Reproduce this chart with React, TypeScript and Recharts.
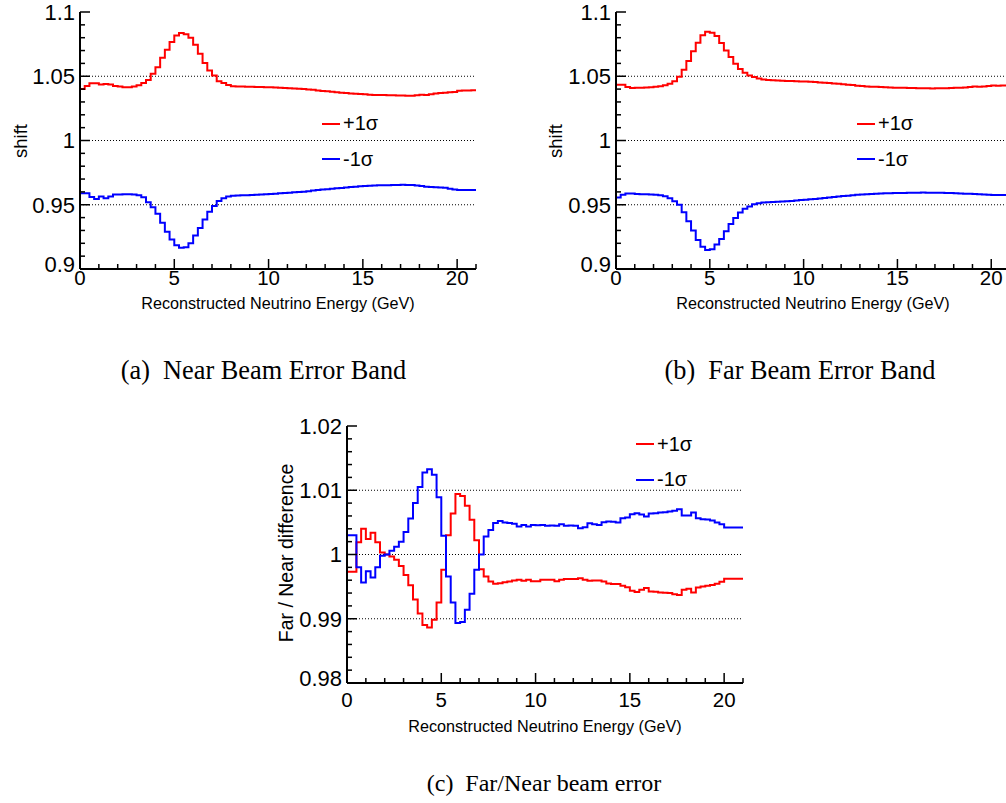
import React from 'react';
import { LineChart, Line, XAxis, YAxis, ReferenceLine, Legend } from 'recharts';

const SANS = '"Liberation Sans", Arial, Helvetica, sans-serif';
const SERIF = '"Liberation Serif", "Times New Roman", serif';

const BIN_WIDTH = 0.25;
const X_MAX = 21;

const xTicks = [0, 1, 2, 3, 4, 5, 6, 7, 8, 9, 10, 11, 12, 13, 14, 15, 16, 17, 18, 19, 20, 21];
const xLabelled = [0, 5, 10, 15, 20];

const shiftTicks = [0.9, 0.91, 0.92, 0.93, 0.94, 0.95, 0.96, 0.97, 0.98, 0.99, 1, 1.01, 1.02, 1.03, 1.04, 1.05, 1.06, 1.07, 1.08, 1.09, 1.1];
const shiftLabelled = [0.9, 0.95, 1, 1.05, 1.1];
const shiftGrid = [0.95, 1, 1.05];

const ratioTicks = [0.98, 0.982, 0.984, 0.986, 0.988, 0.99, 0.992, 0.994, 0.996, 0.998, 1, 1.002, 1.004, 1.006, 1.008, 1.01, 1.012, 1.014, 1.016, 1.018, 1.02];
const ratioLabelled = [0.98, 0.99, 1, 1.01, 1.02];
const ratioGrid = [0.99, 1, 1.01];

const seriesNames = ['+1σ', '-1σ'];
const seriesColors = ['#ff0000', '#0000ff'];

// bin contents, 0.25 GeV bins from 0 to 21 GeV
const nearUp = [
  1.0400, 1.0425, 1.0445, 1.0445, 1.0435, 1.0440, 1.0435, 1.0425, 1.0420, 1.0415,
  1.0415, 1.0420, 1.0430, 1.0447, 1.0470, 1.0520, 1.0570, 1.0644, 1.0706, 1.0766,
  1.0818, 1.0836, 1.0826, 1.0800, 1.0745, 1.0675, 1.0603, 1.0545, 1.0506, 1.0462,
  1.0447, 1.0431, 1.0423, 1.0420, 1.0420, 1.0419, 1.0418, 1.0417, 1.0416, 1.0415,
  1.0414, 1.0413, 1.0411, 1.0409, 1.0407, 1.0405, 1.0402, 1.0400, 1.0397, 1.0394,
  1.0390, 1.0386, 1.0383, 1.0380, 1.0376, 1.0372, 1.0369, 1.0366, 1.0363, 1.0361,
  1.0359, 1.0357, 1.0355, 1.0354, 1.0354, 1.0353, 1.0352, 1.0351, 1.0350, 1.0349,
  1.0348, 1.0352, 1.0356, 1.0354, 1.0360, 1.0365, 1.0370, 1.0372, 1.0376, 1.0378,
  1.0388, 1.0390, 1.0390, 1.0391,
];
const nearDown = [
  0.9590, 0.9590, 0.9560, 0.9545, 0.9565, 0.9550, 0.9565, 0.9580, 0.9580, 0.9582,
  0.9582, 0.9580, 0.9574, 0.9558, 0.9520, 0.9480, 0.9430, 0.9360, 0.9290, 0.9230,
  0.9185, 0.9165, 0.9170, 0.9200, 0.9260, 0.9320, 0.9385, 0.9445, 0.9490, 0.9530,
  0.9550, 0.9565, 0.9570, 0.9572, 0.9573, 0.9574, 0.9576, 0.9578, 0.9580, 0.9582,
  0.9584, 0.9586, 0.9589, 0.9592, 0.9594, 0.9597, 0.9599, 0.9602, 0.9606, 0.9610,
  0.9614, 0.9618, 0.9621, 0.9624, 0.9628, 0.9631, 0.9635, 0.9638, 0.9641, 0.9644,
  0.9646, 0.9648, 0.9650, 0.9651, 0.9651, 0.9652, 0.9653, 0.9654, 0.9655, 0.9654,
  0.9654, 0.9650, 0.9645, 0.9641, 0.9638, 0.9636, 0.9634, 0.9633, 0.9625, 0.9618,
  0.9615, 0.9615, 0.9615, 0.9615,
];
const farUp = [
  1.0434, 1.0434, 1.0416, 1.0408, 1.0410, 1.0410, 1.0413, 1.0415, 1.0418, 1.0423,
  1.0430, 1.0442, 1.0462, 1.0496, 1.0550, 1.0618, 1.0694, 1.0761, 1.0820, 1.0847,
  1.0839, 1.0813, 1.0758, 1.0701, 1.0650, 1.0597, 1.0556, 1.0527, 1.0506, 1.0494,
  1.0483, 1.0475, 1.0470, 1.0468, 1.0467, 1.0465, 1.0464, 1.0463, 1.0461, 1.0460,
  1.0459, 1.0457, 1.0455, 1.0452, 1.0450, 1.0447, 1.0444, 1.0441, 1.0438, 1.0434,
  1.0431, 1.0427, 1.0424, 1.0421, 1.0419, 1.0418, 1.0416, 1.0414, 1.0412, 1.0411,
  1.0410, 1.0411, 1.0409, 1.0408, 1.0407, 1.0406, 1.0406, 1.0405, 1.0406, 1.0407,
  1.0406, 1.0408, 1.0410, 1.0411, 1.0413, 1.0417, 1.0420, 1.0419, 1.0421, 1.0424,
  1.0428, 1.0427, 1.0428, 1.0428,
];
const farDown = [
  0.9556, 0.9577, 0.9587, 0.9587, 0.9584, 0.9582, 0.9582, 0.9580, 0.9577, 0.9574,
  0.9566, 0.9550, 0.9527, 0.9500, 0.9442, 0.9371, 0.9299, 0.9226, 0.9174, 0.9148,
  0.9153, 0.9190, 0.9234, 0.9294, 0.9351, 0.9397, 0.9439, 0.9468, 0.9486, 0.9504,
  0.9512, 0.9517, 0.9520, 0.9522, 0.9524, 0.9526, 0.9528, 0.9530, 0.9533, 0.9536,
  0.9539, 0.9542, 0.9545, 0.9549, 0.9553, 0.9557, 0.9561, 0.9565, 0.9568, 0.9571,
  0.9574, 0.9577, 0.9580, 0.9582, 0.9584, 0.9586, 0.9588, 0.9589, 0.9590, 0.9591,
  0.9592, 0.9592, 0.9593, 0.9594, 0.9594, 0.9595, 0.9594, 0.9594, 0.9594, 0.9593,
  0.9592, 0.9591, 0.9590, 0.9588, 0.9586, 0.9585, 0.9584, 0.9581, 0.9579, 0.9578,
  0.9576, 0.9576, 0.9575, 0.9576,
];
const ratioUp = [
  0.99730, 0.99730, 1.00190, 1.00400, 1.00240, 1.00340, 1.00190, 1.00030, 1.00000, 0.99970,
  0.99920, 0.99820, 0.99680, 0.99520, 0.99300, 0.99080, 0.98902, 0.98865, 0.98984, 0.99254,
  0.99762, 1.00300, 1.00640, 1.00940, 1.00910, 1.00760, 1.00540, 1.00220, 0.99770, 0.99658,
  0.99580, 0.99544, 0.99554, 0.99570, 0.99580, 0.99596, 0.99606, 0.99591, 0.99606, 0.99585,
  0.99585, 0.99606, 0.99606, 0.99606, 0.99585, 0.99606, 0.99617, 0.99617, 0.99617, 0.99632,
  0.99606, 0.99591, 0.99596, 0.99596, 0.99580, 0.99549, 0.99539, 0.99539, 0.99513, 0.99492,
  0.99435, 0.99415, 0.99451, 0.99477, 0.99425, 0.99420, 0.99410, 0.99405, 0.99399, 0.99383,
  0.99368, 0.99451, 0.99466, 0.99409, 0.99487, 0.99503, 0.99513, 0.99525, 0.99544, 0.99575,
  0.99622, 0.99622, 0.99622, 0.99622,
];
const ratioDown = [
  1.00300, 1.00300, 0.99800, 0.99565, 0.99740, 0.99642, 0.99800, 0.99980, 1.00000, 1.00060,
  1.00120, 1.00200, 1.00350, 1.00560, 1.00800, 1.01050, 1.01275, 1.01326, 1.01240, 1.00890,
  1.00290, 0.99658, 0.99254, 0.98933, 0.98948, 0.99140, 0.99389, 0.99762, 1.00000, 1.00280,
  1.00380, 1.00490, 1.00520, 1.00500, 1.00490, 1.00480, 1.00435, 1.00460, 1.00435, 1.00460,
  1.00455, 1.00461, 1.00446, 1.00451, 1.00446, 1.00472, 1.00446, 1.00451, 1.00446, 1.00409,
  1.00425, 1.00487, 1.00472, 1.00461, 1.00503, 1.00513, 1.00508, 1.00497, 1.00565, 1.00575,
  1.00627, 1.00642, 1.00622, 1.00590, 1.00637, 1.00642, 1.00653, 1.00658, 1.00668, 1.00679,
  1.00705, 1.00606, 1.00606, 1.00653, 1.00565, 1.00549, 1.00544, 1.00528, 1.00497, 1.00472,
  1.00420, 1.00420, 1.00420, 1.00420,
];

// ROOT draws the first bin edge up from the axis minimum
function histogramRows(up: number[], down: number[], floor: number) {
  const rows = [{ e: 0, up: floor, down: floor }];
  up.forEach((v, i) => rows.push({ e: i * BIN_WIDTH, up: v, down: down[i] }));
  rows.push({ e: up.length * BIN_WIDTH, up: up[up.length - 1], down: down[down.length - 1] });
  return rows;
}

const isIn = (list: number[], v: number) => list.some((t) => Math.abs(t - v) < 1e-9);

const X_TICK_FONT = 20.5;
const Y_TICK_FONT = 22;
const MINOR = 5;
const MAJOR = 10;

// side: which frame edge the tick sits on; dx/dy point into the plot
function EdgeTick(props: any) {
  const { x, y, payload, side, labelled, drop, floor } = props;
  const value = payload?.value;
  if (typeof x !== 'number' || typeof y !== 'number') return null;
  const major = isIn(labelled, value);
  const dir = { bottom: [0, -1], top: [0, 1], left: [1, 0], right: [-1, 0] }[side as 'bottom'] as number[];
  const lowest = side === 'left' && Math.abs(value - floor) < 1e-9;
  return (
    <g>
      {major && (
        <path
          d={`M${x + dir[0] * MINOR},${y + dir[1] * MINOR}L${x + dir[0] * MAJOR},${y + dir[1] * MAJOR}`}
          stroke="#000"
          strokeWidth={1.5}
          fill="none"
        />
      )}
      {major && side === 'bottom' && (
        <text x={x} y={y + drop} textAnchor="middle" fontSize={X_TICK_FONT} fontFamily={SANS} fill="#000">
          {value}
        </text>
      )}
      {major && side === 'left' && (
        <text x={x - 5} y={y + 7.8 - (lowest ? 5 : 0)} textAnchor="end" fontSize={Y_TICK_FONT} fontFamily={SANS} fill="#000">
          {value}
        </text>
      )}
    </g>
  );
}

function SigmaLegend({ payload }: any) {
  return (
    <div style={{ fontFamily: SANS, fontSize: 20, color: '#000' }}>
      {(payload || []).map((entry: any) => (
        <div key={entry.value} style={{ display: 'flex', alignItems: 'center', height: 35.5 }}>
          <span style={{ width: 18, height: 0, borderTop: `2px solid ${entry.color}`, marginRight: 3 }} />
          <span>{entry.value}</span>
        </div>
      ))}
    </div>
  );
}

interface PanelProps {
  up: number[];
  down: number[];
  yDomain: [number, number];
  yTicks: number[];
  yLabelled: number[];
  grid: number[];
  width: number;
  xLabelDrop: number;
  titleOffset: number;
  legendLeft: number;
  legendTop: number;
}

function HistPanel({ up, down, yDomain, yTicks, yLabelled, grid, width, xLabelDrop, titleOffset, legendLeft, legendTop }: PanelProps) {
  const data = histogramRows(up, down, yDomain[0]);
  const ink = { stroke: '#000', strokeWidth: 1.5 };
  const frame = { stroke: '#000', strokeWidth: 2 };

  return (
    <LineChart width={width} height={330} data={data} margin={{ top: 12, right: 24, bottom: 0, left: 20 }}>
      <XAxis
        dataKey="e"
        type="number"
        domain={[0, X_MAX]}
        allowDataOverflow
        ticks={xTicks}
        interval={0}
        height={61}
        tickSize={-MINOR}
        tickMargin={MINOR}
        tickLine={ink}
        axisLine={frame}
        tick={<EdgeTick side="bottom" labelled={xLabelled} drop={xLabelDrop} />}
        label={{
          value: 'Reconstructed Neutrino Energy (GeV)',
          position: 'insideBottom',
          offset: titleOffset,
          fontSize: 16.2,
          fontFamily: SANS,
          fill: '#000',
        }}
      />
      <XAxis
        xAxisId="top"
        orientation="top"
        dataKey="e"
        type="number"
        domain={[0, X_MAX]}
        allowDataOverflow
        ticks={xTicks}
        interval={0}
        height={0}
        tickSize={-MINOR}
        tickMargin={MINOR}
        tickLine={ink}
        axisLine={frame}
        tick={<EdgeTick side="top" labelled={xLabelled} />}
      />
      <YAxis
        type="number"
        domain={yDomain}
        allowDataOverflow
        ticks={yTicks}
        interval={0}
        width={60}
        tickSize={-MINOR}
        tickMargin={MINOR}
        tickLine={ink}
        axisLine={frame}
        tick={<EdgeTick side="left" labelled={yLabelled} floor={yDomain[0]} />}
      />
      <YAxis
        yAxisId="right"
        orientation="right"
        type="number"
        domain={yDomain}
        allowDataOverflow
        ticks={yTicks}
        interval={0}
        width={0}
        tickSize={-MINOR}
        tickMargin={MINOR}
        tickLine={ink}
        axisLine={frame}
        tick={<EdgeTick side="right" labelled={yLabelled} />}
      />
      {grid.map((v) => (
        <ReferenceLine key={v} y={v} stroke="#000" strokeWidth={1} strokeDasharray="1 2" />
      ))}
      <Line
        type="stepAfter"
        dataKey="up"
        name={seriesNames[0]}
        stroke={seriesColors[0]}
        strokeWidth={2}
        dot={false}
        isAnimationActive={false}
      />
      <Line
        type="stepAfter"
        dataKey="down"
        name={seriesNames[1]}
        stroke={seriesColors[1]}
        strokeWidth={2}
        dot={false}
        isAnimationActive={false}
      />
      <Legend
        layout="vertical"
        align="center"
        verticalAlign="middle"
        content={SigmaLegend}
        wrapperStyle={{ left: legendLeft, top: legendTop, width: 'auto', height: 'auto' }}
      />
    </LineChart>
  );
}

function YTitle({ text, cx, cy, size }: { text: string; cx: number; cy: number; size: number }) {
  return (
    <div
      style={{
        position: 'absolute',
        left: cx,
        top: cy,
        transform: 'translate(-50%, -50%) rotate(-90deg)',
        whiteSpace: 'nowrap',
        lineHeight: 1,
        fontFamily: SANS,
        fontSize: size,
        color: '#000',
      }}
    >
      {text}
    </div>
  );
}

function Caption({ text, cx, cy, size }: { text: string; cx: number; cy: number; size: number }) {
  return (
    <div
      style={{
        position: 'absolute',
        left: cx,
        top: cy,
        transform: 'translate(-50%, -50%)',
        whiteSpace: 'pre',
        lineHeight: 1,
        fontFamily: SERIF,
        fontSize: size,
        color: '#000',
      }}
    >
      {text}
    </div>
  );
}

export default function App() {
  return (
    <div style={{ position: 'absolute', left: 0, top: 0, width: 1006, height: 803, overflow: 'hidden', background: '#fff' }}>
      {/* (a) near detector */}
      <div style={{ position: 'absolute', left: 0, top: 0 }}>
        <HistPanel
          up={nearUp}
          down={nearDown}
          yDomain={[0.9, 1.1]}
          yTicks={shiftTicks}
          yLabelled={shiftLabelled}
          grid={shiftGrid}
          width={500}
          xLabelDrop={16}
          titleOffset={21.5}
          legendLeft={322}
          legendTop={106}
        />
      </div>
      <YTitle text="shift" cx={20.5} cy={140.5} size={18.5} />
      <Caption text="(a)  Near Beam Error Band" cx={263.5} cy={371} size={26.3} />

      {/* (b) far detector */}
      <div style={{ position: 'absolute', left: 536, top: 0 }}>
        <HistPanel
          up={farUp}
          down={farDown}
          yDomain={[0.9, 1.1]}
          yTicks={shiftTicks}
          yLabelled={shiftLabelled}
          grid={shiftGrid}
          width={498}
          xLabelDrop={16}
          titleOffset={21.5}
          legendLeft={321}
          legendTop={106}
        />
      </div>
      <YTitle text="shift" cx={556} cy={140.5} size={18.5} />
      <Caption text="(b)  Far Beam Error Band" cx={800} cy={371} size={26.3} />

      {/* (c) far / near */}
      <div style={{ position: 'absolute', left: 267, top: 414 }}>
        <HistPanel
          up={ratioUp}
          down={ratioDown}
          yDomain={[0.98, 1.02]}
          yTicks={ratioTicks}
          yLabelled={ratioLabelled}
          grid={ratioGrid}
          width={500}
          xLabelDrop={24}
          titleOffset={11.8}
          legendLeft={369}
          legendTop={12.5}
        />
      </div>
      <YTitle text="Far / Near difference" cx={287} cy={553} size={19.5} />
      <Caption text="(c)  Far/Near beam error" cx={544} cy={783} size={24} />
    </div>
  );
}
